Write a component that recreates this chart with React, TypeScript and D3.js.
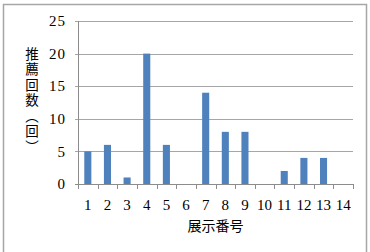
import React from "react";
import * as d3 from "d3";

const categories = ["1","2","3","4","5","6","7","8","9","10","11","12","13","14"];
const values = [5, 6, 1, 20, 6, 0, 14, 8, 8, 0, 2, 4, 4, 0];
const yTicks = [0, 5, 10, 15, 20, 25];
const yTitle = "推薦回数（回）";
const xTitle = "展示番号";

export default function App() {
  const W = 370, H = 252;
  const left = 78, right = 353, top = 21, bottom = 184;
  const x = d3.scaleBand().domain(categories).range([left, right]).paddingInner(0.64).paddingOuter(0.32);
  const xb = d3.scaleBand().domain(categories).range([left, right]);
  const y = d3.scaleLinear().domain([0, 25]).range([bottom, top]);
  const serif = "Liberation Serif, DejaVu Serif, serif";
  const cjk = "Noto Sans CJK JP, sans-serif";
  return (
    <svg width={W} height={H} style={{ position: "absolute", left: 0, top: 0 }}>
      <rect x={0} y={0} width={W} height={H} fill="#fff" />
      <rect x={3.5} y={4.5} width={363} height={260} fill="#fff" stroke="#a6a6a6" strokeWidth={1.5} />
      {yTicks.map((t) => (
        <g key={t}>
          <line x1={left - 3} x2={right} y1={Math.round(y(t)) + 0.5} y2={Math.round(y(t)) + 0.5} stroke={t === 0 ? "#8c8c8c" : "#a6a6a6"} strokeWidth={1} />
          <text x={66} y={y(t)} dy="0.35em" textAnchor="end" style={{ fontFamily: serif, fontSize: 15, letterSpacing: "1px" }} fill="#000">{t}</text>
        </g>
      ))}
      <line x1={left + 0.5} x2={left + 0.5} y1={top} y2={bottom} stroke="#8c8c8c" />
      {categories.map((c) => (
        <line key={"t" + c} x1={Math.round(xb(c)!) + 0.5} x2={Math.round(xb(c)!) + 0.5} y1={bottom} y2={bottom + 5} stroke="#8c8c8c" />
      ))}
      <line x1={right + 0.5} x2={right + 0.5} y1={bottom} y2={bottom + 5} stroke="#8c8c8c" />
      {categories.map((c, i) => (
        <rect key={"b" + c} x={x(c)!} y={y(values[i])} width={x.bandwidth()} height={y(0) - y(values[i])} fill="#4f81bd" />
      ))}
      {categories.map((c) => (
        <text key={"l" + c} x={xb(c)! + xb.bandwidth() / 2} y={205} dy="0.35em" textAnchor="middle" style={{ fontFamily: serif, fontSize: 15 }} fill="#000">{c}</text>
      ))}
      <text x={(left + right) / 2} y={226} dy="0.36em" textAnchor="middle" style={{ fontFamily: cjk, fontSize: 14 }} fill="#000">{xTitle}</text>
      <text x={32} y={47} style={{ fontFamily: cjk, fontSize: 13.5, writingMode: "vertical-rl", letterSpacing: "2px" }} fill="#000">{yTitle}</text>
    </svg>
  );
}
